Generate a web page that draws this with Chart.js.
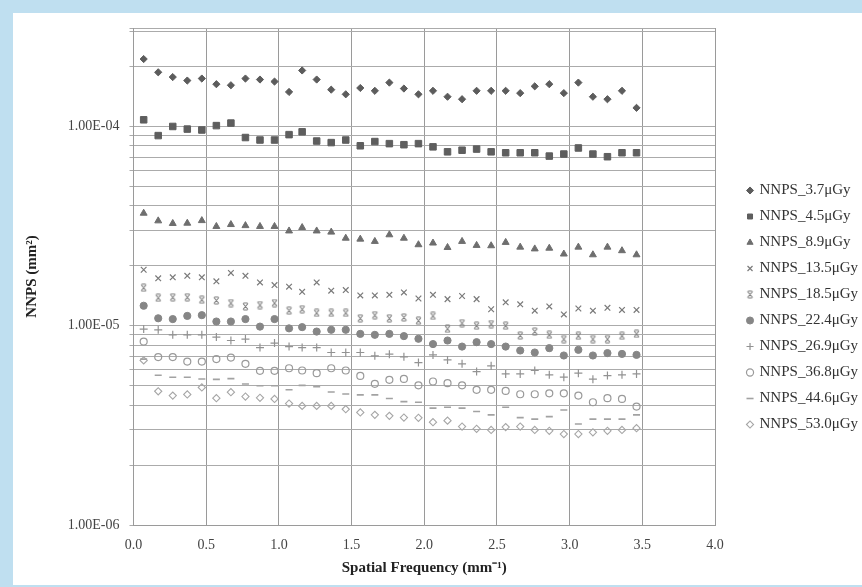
<!DOCTYPE html>
<html>
<head>
<meta charset="utf-8">
<script src="https://cdn.jsdelivr.net/npm/chart.js@4.4.1/dist/chart.umd.min.js"></script>
<style>
  html, body { margin: 0; padding: 0; }
  body { width: 862px; height: 587px; background: #bfdff0; position: relative; overflow: hidden; }
  #panel { position: absolute; left: 13px; top: 13px; right: 0; bottom: 2px; background: #fff; }
  #myChart { position: absolute; left: 0; top: 0; }
</style>
</head>
<body>
<div id="panel"></div>
<canvas id="myChart" width="862" height="587"></canvas>
<script>
// spatial frequency (mm^-1)
const freq = [0.07, 0.17, 0.27, 0.37, 0.47, 0.57, 0.67, 0.77, 0.87, 0.97,
  1.07, 1.16, 1.26, 1.36, 1.46, 1.56, 1.66, 1.76, 1.86, 1.96,
  2.06, 2.16, 2.26, 2.36, 2.46, 2.56, 2.66, 2.76, 2.86, 2.96,
  3.06, 3.16, 3.26, 3.36, 3.46];

const labels = ['NNPS_3.7\u03bcGy', 'NNPS_4.5\u03bcGy', 'NNPS_8.9\u03bcGy', 'NNPS_13.5\u03bcGy', 'NNPS_18.5\u03bcGy',
  'NNPS_22.4\u03bcGy', 'NNPS_26.9\u03bcGy', 'NNPS_36.8\u03bcGy', 'NNPS_44.6\u03bcGy', 'NNPS_53.0\u03bcGy'];

const nnps_3_7 = [2.18e-4, 1.87e-4, 1.77e-4, 1.70e-4, 1.74e-4, 1.63e-4, 1.61e-4, 1.74e-4, 1.72e-4, 1.68e-4,
  1.49e-4, 1.91e-4, 1.72e-4, 1.53e-4, 1.45e-4, 1.56e-4, 1.51e-4, 1.66e-4, 1.55e-4, 1.45e-4,
  1.51e-4, 1.41e-4, 1.37e-4, 1.51e-4, 1.51e-4, 1.51e-4, 1.47e-4, 1.59e-4, 1.63e-4, 1.47e-4,
  1.66e-4, 1.41e-4, 1.37e-4, 1.51e-4, 1.24e-4];
const nnps_4_5 = [1.08e-4, 9.0e-5, 1.00e-4, 9.7e-5, 9.6e-5, 1.01e-4, 1.04e-4, 8.8e-5, 8.55e-5, 8.55e-5,
  9.1e-5, 9.4e-5, 8.45e-5, 8.3e-5, 8.55e-5, 8.0e-5, 8.4e-5, 8.2e-5, 8.1e-5, 8.2e-5,
  7.9e-5, 7.46e-5, 7.6e-5, 7.7e-5, 7.46e-5, 7.38e-5, 7.38e-5, 7.38e-5, 7.1e-5, 7.27e-5,
  7.8e-5, 7.27e-5, 7.05e-5, 7.38e-5, 7.38e-5];
const nnps_8_9 = [3.67e-5, 3.36e-5, 3.26e-5, 3.27e-5, 3.37e-5, 3.15e-5, 3.22e-5, 3.18e-5, 3.15e-5, 3.15e-5,
  2.99e-5, 3.11e-5, 2.99e-5, 2.95e-5, 2.75e-5, 2.72e-5, 2.65e-5, 2.86e-5, 2.75e-5, 2.55e-5,
  2.60e-5, 2.47e-5, 2.65e-5, 2.53e-5, 2.52e-5, 2.62e-5, 2.48e-5, 2.43e-5, 2.45e-5, 2.29e-5,
  2.48e-5, 2.27e-5, 2.48e-5, 2.38e-5, 2.27e-5];
const nnps_13_5 = [1.91e-5, 1.73e-5, 1.75e-5, 1.78e-5, 1.75e-5, 1.67e-5, 1.84e-5, 1.78e-5, 1.65e-5, 1.60e-5,
  1.57e-5, 1.48e-5, 1.65e-5, 1.50e-5, 1.51e-5, 1.42e-5, 1.42e-5, 1.43e-5, 1.47e-5, 1.37e-5,
  1.43e-5, 1.36e-5, 1.41e-5, 1.36e-5, 1.21e-5, 1.31e-5, 1.28e-5, 1.19e-5, 1.25e-5, 1.14e-5,
  1.22e-5, 1.19e-5, 1.23e-5, 1.20e-5, 1.20e-5];
const nnps_18_5 = [1.55e-5, 1.38e-5, 1.39e-5, 1.39e-5, 1.35e-5, 1.34e-5, 1.30e-5, 1.25e-5, 1.27e-5, 1.30e-5,
  1.19e-5, 1.21e-5, 1.16e-5, 1.16e-5, 1.16e-5, 1.09e-5, 1.13e-5, 1.09e-5, 1.10e-5, 1.06e-5,
  1.12e-5, 9.65e-6, 1.03e-5, 1.00e-5, 1.02e-5, 1.00e-5, 8.93e-6, 9.35e-6, 9.0e-6, 8.57e-6,
  8.9e-6, 8.57e-6, 8.57e-6, 8.9e-6, 9.1e-6];
const nnps_22_4 = [1.26e-5, 1.09e-5, 1.08e-5, 1.12e-5, 1.13e-5, 1.05e-5, 1.05e-5, 1.08e-5, 9.9e-6, 1.08e-5,
  9.7e-6, 9.84e-6, 9.35e-6, 9.54e-6, 9.54e-6, 9.1e-6, 9.0e-6, 9.1e-6, 8.87e-6, 8.6e-6,
  8.09e-6, 8.43e-6, 7.86e-6, 8.27e-6, 8.09e-6, 7.86e-6, 7.51e-6, 7.34e-6, 7.72e-6, 7.09e-6,
  7.57e-6, 7.09e-6, 7.29e-6, 7.22e-6, 7.14e-6];
const nnps_26_9 = [9.62e-6, 9.54e-6, 9.0e-6, 9.0e-6, 9.0e-6, 8.77e-6, 8.43e-6, 8.57e-6, 7.77e-6, 8.18e-6,
  7.86e-6, 7.77e-6, 7.77e-6, 7.34e-6, 7.34e-6, 7.34e-6, 7.06e-6, 7.2e-6, 6.98e-6, 6.53e-6,
  7.14e-6, 6.74e-6, 6.44e-6, 5.89e-6, 6.29e-6, 5.73e-6, 5.73e-6, 5.96e-6, 5.67e-6, 5.52e-6,
  5.78e-6, 5.39e-6, 5.62e-6, 5.67e-6, 5.73e-6];
const nnps_36_8 = [8.33e-6, 6.96e-6, 6.96e-6, 6.61e-6, 6.61e-6, 6.8e-6, 6.92e-6, 6.44e-6, 5.94e-6, 5.94e-6,
  6.12e-6, 5.96e-6, 5.78e-6, 6.12e-6, 5.96e-6, 5.6e-6, 5.11e-6, 5.35e-6, 5.41e-6, 5.02e-6,
  5.25e-6, 5.15e-6, 5.02e-6, 4.77e-6, 4.77e-6, 4.71e-6, 4.53e-6, 4.53e-6, 4.58e-6, 4.58e-6,
  4.46e-6, 4.13e-6, 4.33e-6, 4.29e-6, 3.93e-6];
const nnps_44_6 = [6.8e-6, 5.64e-6, 5.51e-6, 5.51e-6, 5.4e-6, 5.38e-6, 5.43e-6, 5.1e-6, 5.0e-6, 5.0e-6,
  4.77e-6, 5.02e-6, 4.95e-6, 4.65e-6, 4.54e-6, 4.5e-6, 4.5e-6, 4.31e-6, 4.16e-6, 4.13e-6,
  3.86e-6, 3.9e-6, 3.86e-6, 3.71e-6, 3.57e-6, 3.9e-6, 3.46e-6, 3.4e-6, 3.5e-6, 3.78e-6,
  3.21e-6, 3.4e-6, 3.4e-6, 3.4e-6, 3.57e-6];
const nnps_53_0 = [6.7e-6, 4.69e-6, 4.46e-6, 4.52e-6, 4.9e-6, 4.33e-6, 4.64e-6, 4.41e-6, 4.35e-6, 4.29e-6,
  4.07e-6, 3.96e-6, 3.96e-6, 3.96e-6, 3.81e-6, 3.67e-6, 3.57e-6, 3.53e-6, 3.46e-6, 3.45e-6,
  3.28e-6, 3.34e-6, 3.12e-6, 3.04e-6, 3.0e-6, 3.1e-6, 3.12e-6, 3.0e-6, 2.97e-6, 2.86e-6,
  2.86e-6, 2.92e-6, 2.97e-6, 3.0e-6, 3.06e-6];

const series = [nnps_3_7, nnps_4_5, nnps_8_9, nnps_13_5, nnps_18_5, nnps_22_4, nnps_26_9, nnps_36_8, nnps_44_6, nnps_53_0];

// y axis: min, max and the gridline values
const yMin = 1e-6, yMax = 3.12e-4;
const yGrid = [1e-6, 2e-6, 3e-6, 4e-6, 5e-6, 6e-6, 7e-6, 8e-6, 9e-6,
  1e-5, 2e-5, 3e-5, 4e-5, 5e-5, 6e-5, 7e-5, 8e-5, 9e-5,
  1e-4, 2e-4, 3e-4, 3.12e-4];
const yLabels = [1e-6, 1e-5, 1e-4];

const serif = 'Liberation Serif';

// x marker with bars top and bottom (Excel star)
function hourglass(color) {
  const c = document.createElement('canvas');
  c.width = 9; c.height = 9;
  const g = c.getContext('2d');
  g.strokeStyle = color;
  g.lineWidth = 1.1;
  g.beginPath();
  g.moveTo(2, 1.5); g.lineTo(7, 7.5);
  g.moveTo(7, 1.5); g.lineTo(2, 7.5);
  g.moveTo(2.5, 1); g.lineTo(6.5, 1);
  g.moveTo(2.5, 8); g.lineTo(6.5, 8);
  g.stroke();
  return c;
}

const none = 'rgba(0,0,0,0)';
const styles = [
  {pointStyle: 'rectRot', color: '#5c5c5c', fill: true, r: 3.6, bw: 1},
  {pointStyle: 'rect', color: '#5e5e5e', fill: true, r: 4.6, bw: 1},
  {pointStyle: 'triangle', color: '#6e6e6e', fill: true, r: 4, bw: 1},
  {pointStyle: 'crossRot', color: '#7a7a7a', fill: false, r: 4, bw: 1.2},
  {pointStyle: hourglass('#7c7c7c'), color: '#7c7c7c', fill: false, r: 4, bw: 1},
  {pointStyle: 'circle', color: '#868686', fill: true, r: 3.6, bw: 1},
  {pointStyle: 'cross', color: '#929292', fill: false, r: 4, bw: 1.2},
  {pointStyle: 'circle', color: '#9a9a9a', fill: false, r: 3.5, bw: 1.2},
  {pointStyle: 'line', color: '#a2a2a2', fill: false, r: 3.5, bw: 1.6},
  {pointStyle: 'rectRot', color: '#a6a6a6', fill: false, r: 3.6, bw: 1.1}
];

const datasets = series.map((vals, i) => ({
  label: labels[i],
  data: vals.map((v, j) => ({x: freq[j], y: v})),
  showLine: false,
  pointStyle: styles[i].pointStyle,
  pointRadius: styles[i].r,
  pointHoverRadius: styles[i].r,
  pointBorderWidth: styles[i].bw,
  borderColor: styles[i].color,
  backgroundColor: styles[i].fill ? styles[i].color : none,
  pointBorderColor: styles[i].color,
  pointBackgroundColor: styles[i].fill ? styles[i].color : none
}));

function sci(v) {
  const parts = v.toExponential(2).split('e');
  const e = parseInt(parts[1], 10);
  return parts[0] + 'E' + (e < 0 ? '-' : '+') + String(Math.abs(e)).padStart(2, '0');
}

// move the legend to where it sits in the original figure
const legendShift = {
  id: 'legendShift',
  afterLayout(chart) {
    const lg = chart.legend;
    lg.left += 22; lg.right += 22;
  }
};

const ctx = document.getElementById('myChart');
new Chart(ctx, {
  type: 'scatter',
  data: { datasets: datasets },
  plugins: [legendShift],
  options: {
    responsive: false,
    animation: false,
    layout: { padding: { top: 28, left: 0, right: 16, bottom: 0 } },
    plugins: {
      tooltip: { enabled: false },
      legend: {
        position: 'right',
        labels: {
          usePointStyle: true,
          boxWidth: 4,
          boxHeight: 5,
          padding: 11,
          color: '#333',
          font: { family: serif, size: 15 }
        }
      }
    },
    scales: {
      x: {
        type: 'linear',
        min: 0,
        max: 4,
        afterFit: s => { s.height = 62; },
        ticks: {
          stepSize: 0.5,
          padding: 12,
          color: '#444',
          font: { family: serif, size: 14 },
          callback: v => v.toFixed(1)
        },
        grid: { color: '#9a9a9a', drawTicks: false },
        border: { color: '#9a9a9a' },
        title: {
          display: true,
          text: 'Spatial Frequency (mm\u207b\u00b9)',
          color: '#222',
          font: { family: serif, size: 15, weight: 'bold' },
          padding: { top: 4, bottom: 10 }
        }
      },
      y: {
        type: 'logarithmic',
        min: yMin,
        max: yMax,
        afterFit: s => { s.width = 133.5; },
        afterBuildTicks: s => { s.ticks = yGrid.map(v => ({ value: v })); },
        ticks: {
          autoSkip: false,
          padding: 10,
          color: '#444',
          font: { family: serif, size: 14 },
          callback: v => yLabels.some(p => Math.abs(p - v) < p * 1e-6) ? sci(v) : ''
        },
        grid: { color: '#ababab', tickLength: 4 },
        border: { color: '#9a9a9a' },
        title: {
          display: true,
          text: 'NNPS (mm\u00b2)',
          color: '#222',
          font: { family: serif, size: 15, weight: 'bold' },
          padding: { top: 23, bottom: 0 }
        }
      }
    }
  }
});
</script>
</body>
</html>
